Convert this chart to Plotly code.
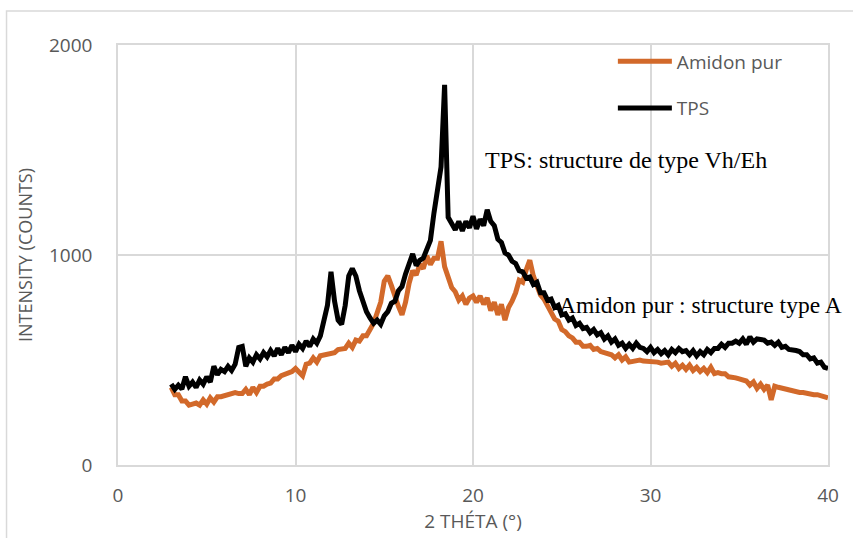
import plotly.graph_objects as go

# 2-theta sampling (degrees), step 0.2 from 3 to 40
theta = [round(3 + 0.2 * i, 1) for i in range(186)]

tps = [
    385, 360, 380, 362, 420,
    375, 395, 370, 405, 385,
    420, 395, 470, 430, 455,
    445, 470, 450, 480, 560,
    565, 470, 510, 490, 525,
    505, 535, 515, 545, 520,
    555, 525, 560, 535, 570,
    540, 575, 555, 590, 565,
    600, 580, 615, 690, 760,
    920, 780, 690, 670, 760,
    900, 935, 900, 830, 780,
    730, 700, 675, 690, 670,
    710, 730, 770, 780, 830,
    850, 910, 950, 1005, 950,
    975, 985, 1025, 1070, 1200,
    1300, 1420, 1810, 1180, 1150,
    1120, 1160, 1115, 1160, 1130,
    1185, 1125, 1170, 1140, 1215,
    1160, 1140, 1075, 1060, 1010,
    1000, 970, 960, 925, 920,
    890, 895, 860, 870, 820,
    820, 785, 790, 750, 760,
    715, 720, 690, 700, 665,
    675, 650, 655, 630, 645,
    620, 630, 600, 615, 585,
    600, 570, 580, 555, 575,
    555, 580, 560, 555, 540,
    560, 535, 550, 530, 545,
    525, 550, 535, 555, 540,
    545, 525, 545, 520, 540,
    525, 550, 535, 555, 555,
    575, 560, 580, 580, 590,
    580, 600, 575, 610, 585,
    600, 600, 595, 580, 585,
    570, 585, 560, 565, 550,
    550, 545, 540, 525, 525,
    505, 510, 485, 490, 465,
    460,
]

amidon = [
    370, 335, 335, 305, 305,
    285, 290, 295, 285, 310,
    290, 320, 300, 325, 325,
    330, 335, 335, 345, 340,
    340, 360, 335, 370, 345,
    375, 375, 385, 390, 410,
    410, 425, 430, 440, 445,
    460, 440, 425, 480, 485,
    510, 490, 520, 525, 525,
    535, 535, 550, 550, 555,
    580, 560, 595, 590, 615,
    615, 645, 675, 725, 775,
    875, 900, 855, 795, 755,
    715, 775, 865, 925, 905,
    955, 935, 995, 955, 985,
    985, 1065, 945, 885, 845,
    825, 785, 805, 765, 795,
    805, 775, 805, 765, 795,
    735, 775, 715, 765, 690,
    750, 780, 820, 880, 870,
    930, 975, 900, 850, 810,
    790, 755, 725, 695, 685,
    645, 635, 615, 605, 585,
    585, 565, 565, 570, 550,
    555, 540, 535, 535, 525,
    510, 525, 500, 515, 490,
    495, 500, 500, 495, 495,
    495, 490, 490, 485, 485,
    490, 470, 485, 460, 475,
    455, 475, 450, 465, 445,
    460, 440, 465, 435, 440,
    435, 435, 420, 420, 415,
    410, 405, 400, 380, 395,
    365, 385, 360, 380, 310,
    375, 370, 365, 360, 360,
    355, 350, 345, 345, 340,
    340, 335, 335, 330, 330,
    320,
]

x_ticks = [0, 10, 20, 30, 40]
y_ticks = [0, 1000, 2000]

GRID = "#d9d9d9"
TXT = "#595959"
SANS = "Open Sans"

fig = go.Figure()
fig.add_trace(go.Scatter(x=theta, y=amidon, mode="lines", name="Amidon pur",
                         legendgroup="a",
                         line=dict(color="#D2692A", width=5)))
fig.add_trace(go.Scatter(x=theta, y=tps, mode="lines", name="TPS",
                         legendgroup="b",
                         line=dict(color="#000000", width=5)))

fig.add_annotation(x=20.56, y=1452, xref="x", yref="y", xanchor="left", yanchor="middle",
                   text="TPS: structure de type Vh/Eh", showarrow=False,
                   font=dict(family="Liberation Serif", size=24, color="#000000"))
fig.add_annotation(x=24.73, y=762, xref="x", yref="y", xanchor="left", yanchor="middle",
                   text="Amidon pur : structure type A", showarrow=False,
                   font=dict(family="Liberation Serif", size=23.5, color="#000000"))

# chart-area border
fig.add_shape(type="rect", xref="paper", yref="paper",
              x0=-0.157, y0=-0.25, x1=1.1, y1=1.081,
              line=dict(color=GRID, width=1.5), fillcolor="rgba(0,0,0,0)", layer="below")

fig.update_layout(
    width=853, height=538,
    margin=dict(l=118, r=25, t=45, b=73),
    paper_bgcolor="white", plot_bgcolor="white",
    showlegend=True,
    legend=dict(x=0.697, y=1.006, xanchor="left", yanchor="top",
                font=dict(family=SANS, size=19, color=TXT),
                itemwidth=54,
                bgcolor="rgba(0,0,0,0)", tracegroupgap=19, traceorder="grouped"),
    xaxis=dict(range=[0, 40], tickvals=x_ticks, ticktext=[str(v) for v in x_ticks],
               showgrid=True, gridcolor=GRID, gridwidth=1.5, zeroline=False,
               showline=True, mirror=True, linecolor=GRID, linewidth=1.5,
               ticks="", ticklabelstandoff=12,
               tickfont=dict(family=SANS, size=19, color=TXT),
               title=dict(text="2 THÉTA (°)", standoff=2,
                          font=dict(family=SANS, size=19, color=TXT))),
    yaxis=dict(range=[0, 2000], tickvals=y_ticks, ticktext=[str(v) for v in y_ticks],
               showgrid=True, gridcolor=GRID, gridwidth=1.5, zeroline=False,
               showline=True, mirror=True, linecolor=GRID, linewidth=1.5,
               ticks="", ticklabelstandoff=20,
               tickfont=dict(family=SANS, size=19, color=TXT),
               title=dict(text="INTENSITY (COUNTS)", standoff=12,
                          font=dict(family=SANS, size=18, color=TXT))),
)

fig.write_html("out.html", config={"displayModeBar": False},
               post_script="document.body.style.margin='0';")
